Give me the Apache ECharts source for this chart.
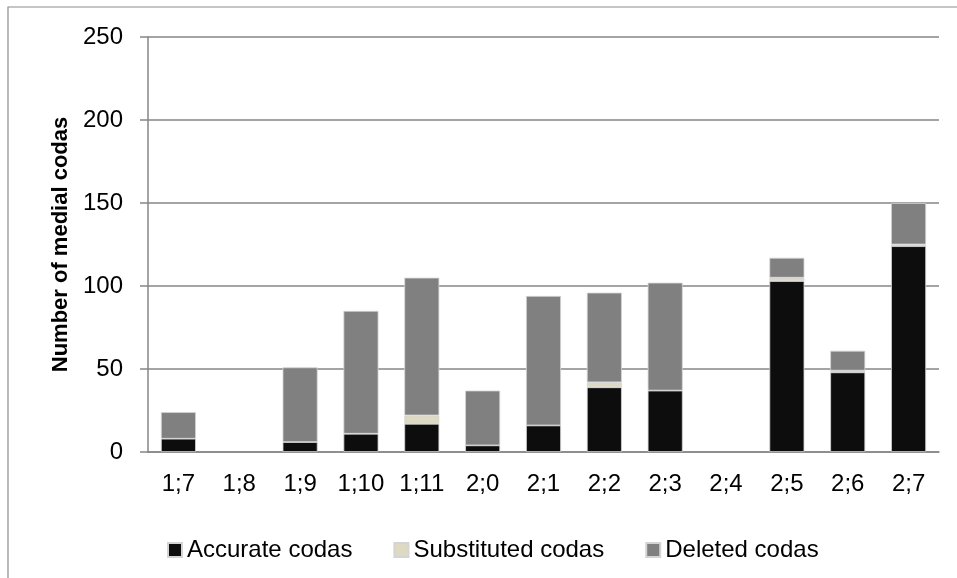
<!DOCTYPE html>
<html>
<head>
<meta charset="utf-8">
<script src="https://cdn.jsdelivr.net/npm/echarts@6/dist/echarts.min.js"></script>
<style>
  html, body { margin: 0; padding: 0; background: #fff; }
  #chart { width: 957px; height: 578px; }
</style>
</head>
<body>
<div id="chart"></div>
<script>
// ages (years;months)
const categories = ['1;7', '1;8', '1;9', '1;10', '1;11', '2;0', '2;1', '2;2', '2;3', '2;4', '2;5', '2;6', '2;7'];
const accurate    = [8, 0, 6, 11, 17, 4, 16, 39, 37, 0, 103, 48, 124];
const substituted = [0, 0, 0, 0, 5, 0, 0, 3, 0, 0, 2, 1, 1];
const deleted     = [16, 0, 45, 74, 83, 33, 78, 54, 65, 0, 12, 12, 25];
const yTicks = [0, 50, 100, 150, 200, 250];

const font = 'Liberation Sans';
const chart = echarts.init(document.getElementById('chart'));

function barSeries(name, data, color) {
    return {
        name: name,
        type: 'bar',
        stack: 'codas',
        barWidth: 35,
        // empty segments are left out so no border line is drawn for them
        data: data.map(v => v === 0 ? '-' : v),
        itemStyle: {color: color, borderColor: '#d4d4d4', borderWidth: 0.8},
        emphasis: {disabled: true}
    };
}

const option = {
    animation: false,
    textStyle: {fontFamily: font},
    graphic: [{
        type: 'rect',
        shape: {x: 8, y: 7, width: 1200, height: 800},
        style: {fill: 'none', stroke: '#8c8c8c', lineWidth: 1.2},
        silent: true
    }],
    grid: {left: 148, top: 37, right: 18, bottom: 126},
    legend: {
        left: 162,
        top: 533,
        itemWidth: 14,
        itemHeight: 14,
        itemGap: 41,
        icon: 'rect',
        textStyle: {fontFamily: font, fontSize: 24, color: '#000'},
        data: ['Accurate codas', 'Substituted codas', 'Deleted codas']
    },
    xAxis: {
        type: 'category',
        data: categories,
        axisTick: {show: false},
        axisLine: {lineStyle: {color: '#868686', width: 1.5}},
        axisLabel: {color: '#000', fontSize: 24, margin: 20, fontFamily: font}
    },
    yAxis: {
        type: 'value',
        min: yTicks[0],
        max: yTicks[yTicks.length - 1],
        interval: 50,
        name: 'Number of medial codas',
        nameLocation: 'middle',
        nameGap: 76,
        nameTextStyle: {fontSize: 22, fontWeight: 'bold', color: '#000', fontFamily: font},
        axisLine: {show: true, lineStyle: {color: '#868686', width: 1.5}},
        axisTick: {show: true, length: 8, lineStyle: {color: '#868686', width: 1.5}},
        axisLabel: {color: '#000', fontSize: 24, margin: 25, fontFamily: font},
        splitLine: {lineStyle: {color: '#868686', width: 1.5}}
    },
    series: [
        barSeries('Accurate codas', accurate, '#0d0d0d'),
        barSeries('Substituted codas', substituted, '#ddd9c3'),
        barSeries('Deleted codas', deleted, '#808080')
    ]
};

chart.setOption(option);
</script>
</body>
</html>
